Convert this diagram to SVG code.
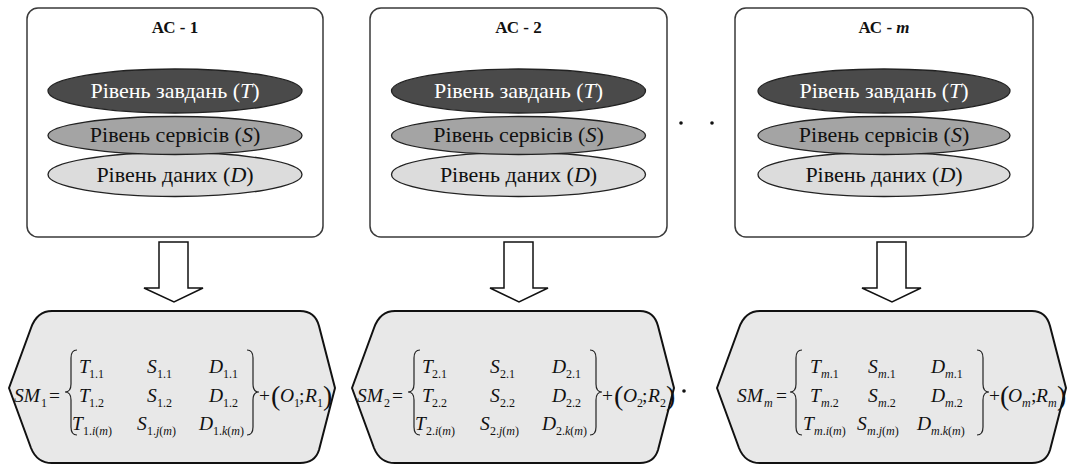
<svg xmlns="http://www.w3.org/2000/svg" width="1068" height="466" viewBox="0 0 1068 466">
<style>
text{font-family:"Liberation Serif","Times New Roman",serif}
.box{fill:#fff;stroke:#3a3a3a;stroke-width:1.5}
.e1{fill:#4a4a4a;stroke:#222;stroke-width:1.3}
.e2{fill:#a4a4a4;stroke:#222;stroke-width:1.3}
.e3{fill:#dcdcdc;stroke:#222;stroke-width:1.3}
.title{font-size:17px;font-weight:bold;text-anchor:middle;fill:#111}
.lt{font-size:22px;text-anchor:middle;fill:#111}
.lw{fill:#fff}
.i{font-style:italic}
.shape{fill:#e8e8e8;stroke:#111;stroke-width:2;stroke-linejoin:round}
.arrow{fill:#fff;stroke:#111;stroke-width:1.5;stroke-linejoin:miter}
.f{font-size:19.5px;font-style:italic;fill:#111}
.u{font-size:19.5px;fill:#111}
.s{font-size:12px;fill:#111}
.par{font-size:28px;fill:#111}
.br{fill:none;stroke:#222;stroke-width:1.2}
.dot{fill:#111}
</style>

<g id="node-ac1">
<rect class="box" x="27" y="8" width="296" height="229" rx="11"/>
<text class="title" x="175" y="33">АС - 1</text>
<ellipse class="e3" cx="175" cy="174.5" rx="127" ry="22"/>
<ellipse class="e2" cx="175" cy="135.5" rx="127" ry="19"/>
<ellipse class="e1" cx="175" cy="91" rx="127" ry="22"/>
<text class="lt lw" x="175" y="98">Рівень завдань (<tspan class="i">T</tspan>)</text>
<text class="lt" x="175" y="142">Рівень сервісів (<tspan class="i">S</tspan>)</text>
<text class="lt" x="175" y="182">Рівень даних (<tspan class="i">D</tspan>)</text>
</g>

<g id="node-ac2">
<rect class="box" x="370" y="8" width="297" height="229" rx="11"/>
<text class="title" x="518.5" y="33">АС - 2</text>
<ellipse class="e3" cx="518.5" cy="174.5" rx="127" ry="22"/>
<ellipse class="e2" cx="518.5" cy="135.5" rx="127" ry="19"/>
<ellipse class="e1" cx="518.5" cy="91" rx="127" ry="22"/>
<text class="lt lw" x="518.5" y="98">Рівень завдань (<tspan class="i">T</tspan>)</text>
<text class="lt" x="518.5" y="142">Рівень сервісів (<tspan class="i">S</tspan>)</text>
<text class="lt" x="518.5" y="182">Рівень даних (<tspan class="i">D</tspan>)</text>
</g>

<g id="dots">
<circle class="dot" cx="681" cy="123" r="1.8"/>
<circle class="dot" cx="712" cy="123" r="1.8"/>
<circle class="dot" cx="684" cy="391" r="1.8"/>
</g>

<g id="node-acm">
<rect class="box" x="735" y="8" width="298" height="229" rx="11"/>
<text class="title" x="884" y="33">АС - <tspan class="i">m</tspan></text>
<ellipse class="e3" cx="884" cy="174.5" rx="126" ry="22"/>
<ellipse class="e2" cx="884" cy="135.5" rx="126" ry="19"/>
<ellipse class="e1" cx="884" cy="91" rx="126" ry="22"/>
<text class="lt lw" x="884" y="98">Рівень завдань (<tspan class="i">T</tspan>)</text>
<text class="lt" x="884" y="142">Рівень сервісів (<tspan class="i">S</tspan>)</text>
<text class="lt" x="884" y="182">Рівень даних (<tspan class="i">D</tspan>)</text>
</g>

<g id="connectors">
<path class="arrow" d="M159 242 L188 242 L188 288 L203 288 L174 302 L144 288 L159 288 Z"/>
<path class="arrow" d="M504 242 L533 242 L533 288 L548 288 L519 302 L490 288 L504 288 Z"/>
<path class="arrow" d="M877 242 L906 242 L906 288 L921 288 L892 302 L862 288 L877 288 Z"/>
</g>

<g id="node-sm1">
<path class="shape" d="M9 388 L31 328 Q37 311 52 311 L300 311 Q315 311 319 326 L335 388 L319 450 Q315 463 300 463 L52 463 Q37 463 31 448 Z"/>
<text class="f" x="14" y="402">SM</text><text class="s" x="41" y="407">1</text>
<text class="u" x="49" y="402">=</text>
<path class="br" d="M77 350 Q71 350 71 358 L71 384 Q71 392 65 392 Q71 392 71 400 L71 427 Q71 435 77 435"/>
<text class="f" x="79" y="373">T</text><text class="s" x="89" y="378">1.1</text>
<text class="f" x="147" y="373">S</text><text class="s" x="157" y="378">1.1</text>
<text class="f" x="209" y="373">D</text><text class="s" x="223" y="378">1.1</text>
<text class="f" x="79" y="402">T</text><text class="s" x="89" y="407">1.2</text>
<text class="f" x="147" y="402">S</text><text class="s" x="157" y="407">1.2</text>
<text class="f" x="209" y="402">D</text><text class="s" x="223" y="407">1.2</text>
<text class="f" x="72" y="430">T</text><text class="s" x="83" y="435">1.<tspan class="i">i</tspan>(<tspan class="i">m</tspan>)</text>
<text class="f" x="137" y="430">S</text><text class="s" x="147" y="435">1.<tspan class="i">j</tspan>(<tspan class="i">m</tspan>)</text>
<text class="f" x="199" y="430">D</text><text class="s" x="213" y="435">1.<tspan class="i">k</tspan>(<tspan class="i">m</tspan>)</text>
<path class="br" d="M247 350 Q253 350 253 358 L253 384 Q253 392 259 392 Q253 392 253 400 L253 427 Q253 435 247 435"/>
<text class="u" x="259" y="402">+</text>
<text class="par" x="271" y="405">(</text>
<text class="f" x="280" y="402">O</text><text class="s" x="294" y="407">1</text>
<text class="u" x="299" y="402">;</text>
<text class="f" x="305" y="402">R</text><text class="s" x="317" y="407">1</text>
<text class="par" x="323" y="405">)</text>
</g>

<g id="node-sm2">
<path class="shape" d="M352 388 L374 328 Q380 311 395 311 L640 311 Q654 311 658 326 L674 388 L658 450 Q654 463 640 463 L395 463 Q380 463 374 448 Z"/>
<g transform="translate(343,0)">
<text class="f" x="14" y="402">SM</text><text class="s" x="41" y="407">2</text>
<text class="u" x="49" y="402">=</text>
<path class="br" d="M77 350 Q71 350 71 358 L71 384 Q71 392 65 392 Q71 392 71 400 L71 427 Q71 435 77 435"/>
<text class="f" x="79" y="373">T</text><text class="s" x="89" y="378">2.1</text>
<text class="f" x="147" y="373">S</text><text class="s" x="157" y="378">2.1</text>
<text class="f" x="209" y="373">D</text><text class="s" x="223" y="378">2.1</text>
<text class="f" x="79" y="402">T</text><text class="s" x="89" y="407">2.2</text>
<text class="f" x="147" y="402">S</text><text class="s" x="157" y="407">2.2</text>
<text class="f" x="209" y="402">D</text><text class="s" x="223" y="407">2.2</text>
<text class="f" x="72" y="430">T</text><text class="s" x="83" y="435">2.<tspan class="i">i</tspan>(<tspan class="i">m</tspan>)</text>
<text class="f" x="137" y="430">S</text><text class="s" x="147" y="435">2.<tspan class="i">j</tspan>(<tspan class="i">m</tspan>)</text>
<text class="f" x="199" y="430">D</text><text class="s" x="213" y="435">2.<tspan class="i">k</tspan>(<tspan class="i">m</tspan>)</text>
<path class="br" d="M247 350 Q253 350 253 358 L253 384 Q253 392 259 392 Q253 392 253 400 L253 427 Q253 435 247 435"/>
<text class="u" x="259" y="402">+</text>
<text class="par" x="271" y="405">(</text>
<text class="f" x="280" y="402">O</text><text class="s" x="294" y="407">2</text>
<text class="u" x="299" y="402">;</text>
<text class="f" x="305" y="402">R</text><text class="s" x="317" y="407">2</text>
<text class="par" x="323" y="405">)</text>
</g>
</g>

<g id="node-smm">
<path class="shape" d="M717 388 L739 328 Q745 311 760 311 L1032 311 Q1046 311 1050 326 L1066 388 L1050 450 Q1046 463 1032 463 L760 463 Q745 463 739 448 Z"/>
<text class="f" x="737" y="402">SM</text><text class="s i" x="764" y="407">m</text>
<text class="u" x="776" y="402">=</text>
<path class="br" d="M802 350 Q796 350 796 358 L796 384 Q796 392 790 392 Q796 392 796 400 L796 427 Q796 435 802 435"/>
<text class="f" x="810" y="373">T</text><text class="s" x="821" y="378"><tspan class="i">m</tspan>.1</text>
<text class="f" x="868" y="373">S</text><text class="s" x="878" y="378"><tspan class="i">m</tspan>.1</text>
<text class="f" x="931" y="373">D</text><text class="s" x="945" y="378"><tspan class="i">m</tspan>.1</text>
<text class="f" x="810" y="402">T</text><text class="s" x="821" y="407"><tspan class="i">m</tspan>.2</text>
<text class="f" x="868" y="402">S</text><text class="s" x="878" y="407"><tspan class="i">m</tspan>.2</text>
<text class="f" x="931" y="402">D</text><text class="s" x="945" y="407"><tspan class="i">m</tspan>.2</text>
<text class="f" x="803" y="430">T</text><text class="s" x="814" y="435"><tspan class="i">m</tspan>.<tspan class="i">i</tspan>(<tspan class="i">m</tspan>)</text>
<text class="f" x="857" y="430">S</text><text class="s" x="867" y="435"><tspan class="i">m</tspan>.<tspan class="i">j</tspan>(<tspan class="i">m</tspan>)</text>
<text class="f" x="917" y="430">D</text><text class="s" x="931" y="435"><tspan class="i">m</tspan>.<tspan class="i">k</tspan>(<tspan class="i">m</tspan>)</text>
<path class="br" d="M977 350 Q983 350 983 358 L983 384 Q983 392 989 392 Q983 392 983 400 L983 427 Q983 435 977 435"/>
<text class="u" x="989" y="402">+</text>
<text class="par" x="1000" y="405">(</text>
<text class="f" x="1008" y="402">O</text><text class="s i" x="1022" y="407">m</text>
<text class="u" x="1031" y="402">;</text>
<text class="f" x="1036" y="402">R</text><text class="s i" x="1048" y="407">m</text>
<text class="par" x="1057" y="405">)</text>
</g>
</svg>
